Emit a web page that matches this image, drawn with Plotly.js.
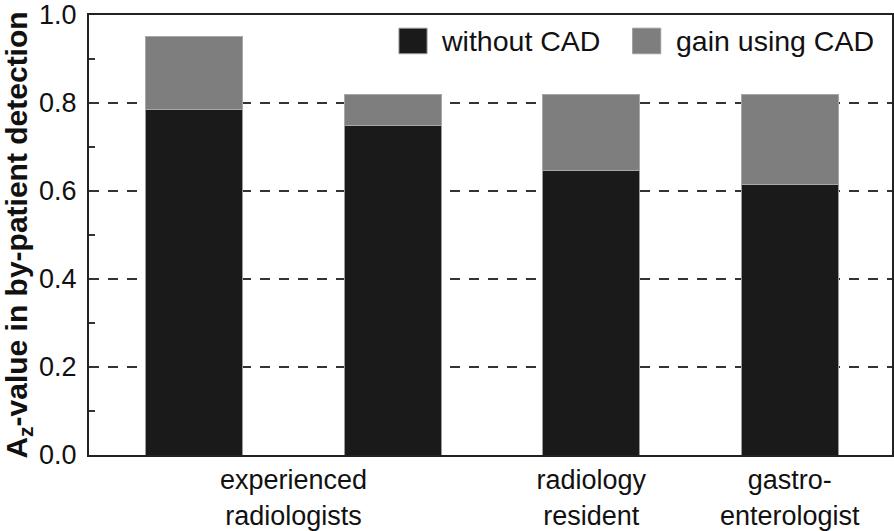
<!DOCTYPE html>
<html>
<head>
<meta charset="utf-8">
<script src="https://cdn.plot.ly/plotly-3.0.1.min.js"></script>
<style>html,body{margin:0;padding:0;background:#fff;}#chart{width:894px;height:531px;}</style>
</head>
<body>
<div id="chart"></div>
<script>
// Data
const barPositions = [0, 1, 2, 3];
const withoutCAD = [0.785, 0.750, 0.646, 0.615];
const gainUsingCAD = [0.167, 0.070, 0.174, 0.205];
const groupTickPositions = [0.5, 2, 3];
const groupTickLabels = ["experienced<br>radiologists", "radiology<br>resident", "gastro-<br>enterologist"];
const seriesNames = ["without CAD", "gain using CAD"];
const yTickValues = [0, 0.2, 0.4, 0.6, 0.8, 1.0];
const yTickLabels = ["0.0", "0.2", "0.4", "0.6", "0.8", "1.0"];

const FONT = "'Liberation Sans', Arial, Helvetica, sans-serif";
const BLACK = "#1a1a1a";
const GRAY = "#7e7e7e";

const traces = [
  {
    type: "bar", name: seriesNames[0], x: barPositions, y: withoutCAD,
    width: 0.49,
    marker: {color: BLACK, line: {color: "#9a9a9a", width: 1}},
    showlegend: false, hoverinfo: "skip"
  },
  {
    type: "bar", name: seriesNames[1], x: barPositions, y: gainUsingCAD,
    width: 0.49,
    marker: {color: GRAY, line: {color: "#a8a8a8", width: 1}},
    showlegend: false, hoverinfo: "skip"
  }
];

// custom legend: large swatches + text (paper coords)
const legendItems = [
  {x0: 0.386, x1: 0.421, color: BLACK, tx: 0.436, label: seriesNames[0]},
  {x0: 0.677, x1: 0.712, color: GRAY, tx: 0.728, label: seriesNames[1]}
];
const shapes = legendItems.map(it => ({
  type: "rect", xref: "paper", yref: "paper",
  x0: it.x0, x1: it.x1, y0: 0.912, y1: 0.970,
  fillcolor: it.color, line: {color: "#9a9a9a", width: 1}
}));
const annotations = legendItems.map(it => ({
  xref: "paper", yref: "paper", x: it.tx, y: 0.941,
  xanchor: "left", yanchor: "middle", showarrow: false,
  text: it.label, font: {family: FONT, size: 28.5, color: "#111"}
}));

const layout = {
  width: 894, height: 531,
  margin: {l: 89, r: 2, t: 15, b: 76},
  paper_bgcolor: "#fff", plot_bgcolor: "#fff",
  barmode: "stack",
  showlegend: false,
  font: {family: FONT, color: "#111"},
  xaxis: {
    range: [-0.53, 3.515],
    tickvals: groupTickPositions, ticktext: groupTickLabels,
    tickfont: {family: FONT, size: 27, color: "#111"},
    ticks: "", showgrid: false, zeroline: false,
    showline: true, linecolor: "#222", linewidth: 2, mirror: true,
    ticklabeloverflow: "allow",
    fixedrange: true
  },
  yaxis: {
    range: [0, 1],
    tickvals: yTickValues, ticktext: yTickLabels,
    tickfont: {family: FONT, size: 27, color: "#111"},
    ticks: "inside", ticklen: 6, tickwidth: 1.5, tickcolor: "#333",
    ticklabelstandoff: 5,
    ticklabeloverflow: "allow",
    minor: {tickvals: [0.1, 0.3, 0.5, 0.7, 0.9], ticks: "inside", ticklen: 6, tickwidth: 1.5, tickcolor: "#333", showgrid: false},
    showgrid: true, gridcolor: "#333", gridwidth: 2.5, griddash: "10px,9px",
    zeroline: false,
    showline: true, linecolor: "#222", linewidth: 2, mirror: true,
    title: {text: "<b>A<sub>z</sub>-value in by-patient detection</b>", font: {family: FONT, size: 30, color: "#111"}, standoff: 6},
    fixedrange: true
  },
  shapes: shapes,
  annotations: annotations
};

Plotly.newPlot("chart", traces, layout, {displayModeBar: false, staticPlot: true});
</script>
</body>
</html>
